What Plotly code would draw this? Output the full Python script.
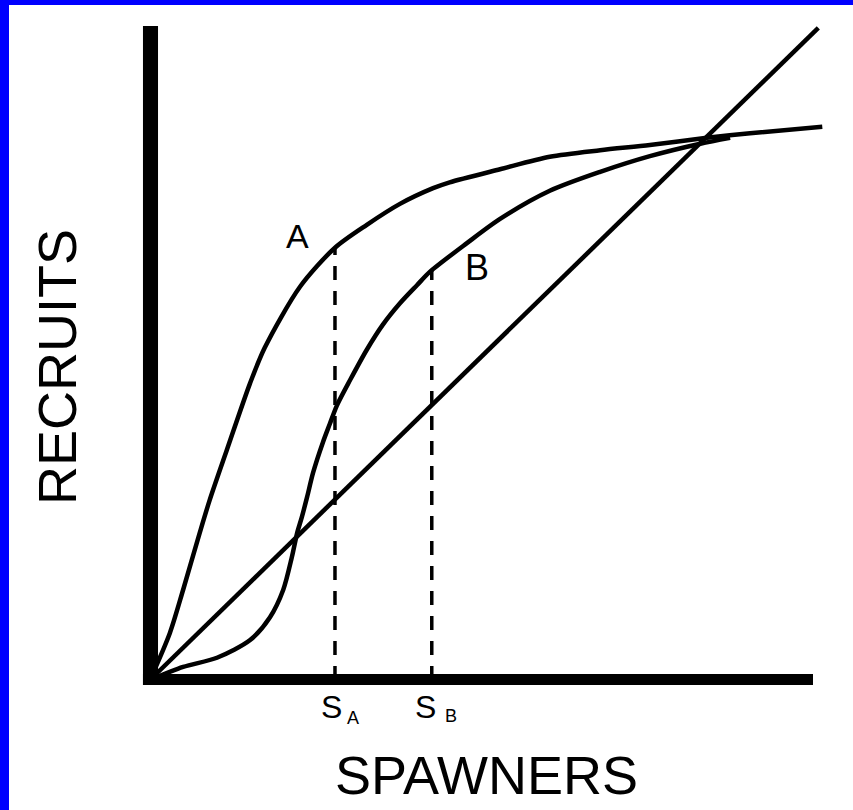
import plotly.graph_objects as go

# Curve A (compensatory stock-recruit curve), arbitrary units 0-100
a_x = [0, 3.0, 5.0, 7.5, 9.0, 11.6, 15.1, 17.3, 22.6, 27.9, 32.7, 37.7, 42.7, 45.2, 52.8, 60.3, 67.9, 75.4, 84.0, 90.5, 101.4]
a_y = [0, 7.2, 13.8, 22.5, 27.5, 35.2, 45.4, 50.8, 60.1, 66.1, 69.6, 72.8, 75.2, 76.1, 78.1, 80.0, 81.0, 81.8, 82.9, 83.6, 84.6]

# Curve B (depensatory, sigmoid)
b_x = [0, 5.0, 10.1, 15.1, 18.1, 20.1, 21.4, 22.2, 22.9, 23.7, 24.6, 26.1, 27.1, 28.2, 30.2, 32.7, 35.1, 37.7, 40.3, 42.2, 47.8, 52.8, 60.3, 67.9, 75.4, 83.0, 87.5]
b_y = [0, 2.0, 3.4, 6.1, 9.6, 13.8, 18.8, 22.5, 24.9, 28.0, 31.7, 36.4, 39.1, 42.0, 45.9, 50.5, 54.3, 57.6, 60.4, 62.4, 66.8, 70.5, 74.8, 77.7, 80.1, 82.0, 82.9]

# Replacement line
rep_x = [0, 100.8]
rep_y = [0, 99.7]

# Spawner levels S_A and S_B with the recruit levels where the dashed lines stop
s_a, s_a_top = 27.9, 66.1
s_b, s_b_top = 42.5, 62.6

W, H = 853, 810
X_RANGE = [-22.624, 106.033]
Y_RANGE = [-19.878, 103.976]

fig = go.Figure()
line_style = dict(color="black", width=4.5)
fig.add_trace(go.Scatter(x=a_x, y=a_y, mode="lines", line=dict(**line_style, shape="spline", smoothing=0.8)))
fig.add_trace(go.Scatter(x=b_x, y=b_y, mode="lines", line=dict(**line_style, shape="spline", smoothing=0.8)))
fig.add_trace(go.Scatter(x=rep_x, y=rep_y, mode="lines", line=line_style))
for sx, top in [(s_a, s_a_top), (s_b, s_b_top)]:
    fig.add_trace(go.Scatter(x=[sx, sx], y=[0, top], mode="lines",
                             line=dict(color="black", width=3.5, dash="14px,11px")))

# thick axes
fig.add_shape(type="rect", x0=-1.06, x1=1.21, y0=-0.76, y1=100, fillcolor="black", line=dict(width=0), layer="above")
fig.add_shape(type="rect", x0=-1.06, x1=100, y0=-0.76, y1=0.92, fillcolor="black", line=dict(width=0), layer="above")

# blue border (top and left)
fig.add_shape(type="rect", xref="paper", yref="paper", x0=0, x1=1, y0=1 - 5 / H, y1=1,
              fillcolor="#0000FF", line=dict(width=0))
fig.add_shape(type="rect", xref="paper", yref="paper", x0=0, x1=9 / W, y0=0, y1=1,
              fillcolor="#0000FF", line=dict(width=0))

reg = "Liberation Sans, Arial, Helvetica"
ann = [
    dict(text="SPAWNERS", x=50.7, y=-14.5, size=54, angle=0),
    dict(text="RECRUITS", x=-14.0, y=47.9, size=54, angle=-90),
    dict(text="A", x=22.2, y=67.9, size=34, angle=0),
    dict(text="B", x=49.3, y=63.1, size=36, angle=0),
    dict(text="S", x=27.3, y=-4.1, size=32, angle=0),
    dict(text="A", x=30.6, y=-5.8, size=18, angle=0),
    dict(text="S", x=41.6, y=-4.1, size=32, angle=0),
    dict(text="B", x=45.4, y=-5.5, size=18, angle=0),
]
for a in ann:
    fig.add_annotation(text=a["text"], x=a["x"], y=a["y"], xref="x", yref="y",
                       showarrow=False, textangle=a["angle"],
                       font=dict(family=reg, size=a["size"], color="black"),
                       xanchor="center", yanchor="middle")

fig.update_layout(
    width=W, height=H, margin=dict(l=0, r=0, t=0, b=0, pad=0),
    plot_bgcolor="white", paper_bgcolor="white", showlegend=False,
    xaxis=dict(range=X_RANGE, visible=False, fixedrange=True),
    yaxis=dict(range=Y_RANGE, visible=False, fixedrange=True),
)
fig.write_html("out.html", config={"displayModeBar": False},
               post_script="document.body.style.margin='0';document.body.style.overflow='hidden';")
